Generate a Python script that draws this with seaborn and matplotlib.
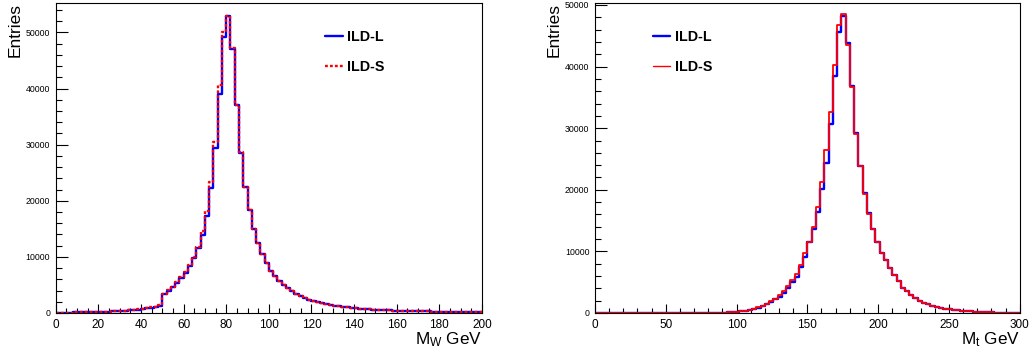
import numpy as np
import pandas as pd
import matplotlib
matplotlib.use("Agg")
import matplotlib.pyplot as plt
import seaborn as sns
from matplotlib.lines import Line2D
from matplotlib.ticker import MultipleLocator, FuncFormatter

# M_W histogram: 100 bins of 2 GeV from 0 to 200, entries in thousands
mw_edges = np.arange(0, 202, 2)
mw_ild_l = [0.05, 0.06, 0.07, 0.08, 0.09, 0.10, 0.11, 0.13, 0.15, 0.17,
            0.19, 0.22, 0.25, 0.28, 0.32, 0.36, 0.41, 0.47, 0.54, 0.62,
            0.72, 0.83, 0.96, 1.10, 1.30, 3.30, 4.00, 4.60, 5.40, 6.20,
            7.10, 8.30, 9.80, 11.6, 13.9, 17.3, 22.3, 29.4, 39.1, 49.1,
            53.0, 47.1, 37.0, 28.6, 22.5, 18.4, 15.0, 12.5, 10.5, 8.9,
            7.5, 6.6, 5.7, 5.0, 4.5, 3.9, 3.4, 3.0, 2.65, 2.35,
            2.1, 1.9, 1.7, 1.55, 1.4, 1.28, 1.17, 1.07, 0.98, 0.90,
            0.83, 0.77, 0.71, 0.66, 0.61, 0.57, 0.53, 0.49, 0.46, 0.43,
            0.40, 0.38, 0.36, 0.34, 0.32, 0.30, 0.28, 0.27, 0.25, 0.24,
            0.23, 0.22, 0.21, 0.20, 0.19, 0.18, 0.17, 0.16, 0.155, 0.15]
mw_ild_s = [0.05, 0.06, 0.07, 0.08, 0.09, 0.10, 0.11, 0.13, 0.15, 0.17,
            0.19, 0.22, 0.25, 0.28, 0.32, 0.36, 0.41, 0.48, 0.55, 0.63,
            0.73, 0.85, 0.98, 1.13, 1.35, 3.40, 4.10, 4.70, 5.50, 6.40,
            7.30, 8.50, 9.90, 11.8, 14.7, 18.1, 23.3, 30.4, 40.7, 50.1,
            52.9, 47.3, 37.1, 28.7, 22.4, 18.3, 15.0, 12.5, 10.5, 8.9,
            7.5, 6.6, 5.7, 5.0, 4.5, 3.9, 3.4, 3.0, 2.65, 2.35,
            2.1, 1.9, 1.7, 1.55, 1.4, 1.28, 1.17, 1.07, 0.98, 0.90,
            0.83, 0.77, 0.71, 0.66, 0.61, 0.57, 0.53, 0.49, 0.46, 0.43,
            0.40, 0.38, 0.36, 0.34, 0.32, 0.30, 0.28, 0.27, 0.25, 0.24,
            0.23, 0.22, 0.21, 0.20, 0.19, 0.18, 0.17, 0.16, 0.155, 0.15]

# M_t histogram: 100 bins of 3 GeV from 0 to 300, entries in thousands
mt_edges = np.arange(0, 303, 3)
mt_ild_l = [0.0, 0.0, 0.0, 0.0, 0.0, 0.0, 0.0, 0.0, 0.0, 0.0,
            0.0, 0.0, 0.0, 0.0, 0.0, 0.0, 0.0, 0.0, 0.0, 0.0,
            0.003, 0.004, 0.006, 0.008, 0.011, 0.015, 0.02, 0.027, 0.036, 0.05,
            0.065, 0.085, 0.12, 0.18, 0.25, 0.35, 0.5, 0.65, 0.85, 1.1,
            1.45, 1.8, 2.2, 2.65, 3.3, 4.1, 5.1, 5.9, 7.4, 9.1,
            11.6, 13.6, 16.4, 20.2, 24.3, 30.7, 38.4, 45.6, 48.2, 43.9,
            36.9, 29.3, 23.9, 19.4, 16.2, 13.6, 11.6, 9.7, 8.6, 7.3,
            6.2, 5.2, 4.0, 3.5, 2.9, 2.4, 2.0, 1.7, 1.45, 1.2,
            1.0, 0.85, 0.7, 0.6, 0.5, 0.42, 0.35, 0.3, 0.25, 0.2,
            0.17, 0.14, 0.12, 0.1, 0.08, 0.07, 0.06, 0.05, 0.04, 0.03]
mt_ild_s = [0.0, 0.0, 0.0, 0.0, 0.0, 0.0, 0.0, 0.0, 0.0, 0.0,
            0.0, 0.0, 0.0, 0.0, 0.0, 0.0, 0.0, 0.0, 0.0, 0.0,
            0.003, 0.004, 0.006, 0.008, 0.011, 0.015, 0.02, 0.028, 0.038, 0.052,
            0.068, 0.09, 0.13, 0.19, 0.26, 0.37, 0.52, 0.68, 0.9, 1.15,
            1.5, 1.9, 2.3, 2.9, 3.5, 4.4, 5.4, 6.3, 7.8, 9.8,
            11.6, 14.0, 17.2, 21.2, 26.5, 32.7, 40.3, 46.8, 48.6, 43.5,
            36.7, 29.1, 23.8, 19.3, 16.1, 13.6, 11.6, 9.7, 8.6, 7.3,
            6.2, 5.2, 4.1, 3.5, 2.9, 2.4, 2.0, 1.7, 1.45, 1.2,
            1.0, 0.85, 0.7, 0.6, 0.5, 0.42, 0.35, 0.3, 0.25, 0.2,
            0.17, 0.14, 0.12, 0.1, 0.08, 0.07, 0.06, 0.05, 0.04, 0.03]

labels = ['ILD-L', 'ILD-S']

sns.set_style("ticks")
plt.rcParams['font.family'] = ['Liberation Sans', 'DejaVu Sans']
plt.rcParams['mathtext.default'] = 'regular'
plt.rcParams['text.color'] = 'black'
plt.rcParams['axes.labelcolor'] = 'black'
plt.rcParams['xtick.color'] = 'black'
plt.rcParams['ytick.color'] = 'black'

fig = plt.figure(figsize=(10.31, 3.56), dpi=100)
ax1 = fig.add_axes([0.054, 0.1208, 0.4135, 0.8716])
ax2 = fig.add_axes([0.5771, 0.1208, 0.4119, 0.8716])

dotted = (0, (1.2, 0.9))

def draw_hist(ax, edges, values, color, lw, ls='-'):
    df = pd.DataFrame({'mass': (edges[:-1] + edges[1:]) / 2,
                       'entries': np.array(values) * 1000})
    sns.histplot(data=df, x='mass', weights='entries', bins=list(edges),
                 element='step', fill=False, color=color, linewidth=lw,
                 linestyle=ls, ax=ax)

draw_hist(ax1, mw_edges, mw_ild_l, 'blue', 1.7)
draw_hist(ax1, mw_edges, mw_ild_s, 'red', 1.7, dotted)
draw_hist(ax2, mt_edges, mt_ild_l, 'blue', 1.7)
draw_hist(ax2, mt_edges, mt_ild_s, 'red', 1.3)

ax1.set_xlim(0, 200); ax1.set_ylim(0, 55300)
ax2.set_xlim(0, 300); ax2.set_ylim(0, 50370)
ax1.xaxis.set_major_locator(MultipleLocator(20)); ax1.xaxis.set_minor_locator(MultipleLocator(5))
ax2.xaxis.set_major_locator(MultipleLocator(50)); ax2.xaxis.set_minor_locator(MultipleLocator(10))

for ax in (ax1, ax2):
    ax.yaxis.set_major_locator(MultipleLocator(10000))
    ax.yaxis.set_minor_locator(MultipleLocator(2000))
    ax.yaxis.set_major_formatter(FuncFormatter(lambda v, p: f"{int(round(v))}"))
    for sp in ax.spines.values():
        sp.set_visible(True); sp.set_color('black'); sp.set_linewidth(0.8)
    ax.tick_params(axis='y', which='major', direction='in', length=8.6, width=0.8,
                   labelsize=6.3, pad=4, left=True, right=False)
    ax.tick_params(axis='y', which='minor', direction='in', length=4.5, width=0.8,
                   left=True, right=False)
    ax.tick_params(axis='x', which='major', direction='in', length=6.7, width=0.8,
                   labelsize=8.5, pad=4, bottom=True, top=False)
    ax.tick_params(axis='x', which='minor', direction='in', length=3.4, width=0.8,
                   bottom=True, top=False)
    ax.set_ylabel('Entries', fontsize=12.5, loc='top')
    ax.yaxis.set_label_coords(-0.078, 1.0)

ax1.set_xlabel(r'M$_{W}$ GeV', fontsize=12.3, loc='right')
ax2.set_xlabel(r'M$_{t}$ GeV', fontsize=12.3, loc='right')
ax1.xaxis.set_label_coords(1.0, -0.055)
ax2.xaxis.set_label_coords(1.0, -0.055)

leg_props = {'weight': 'bold', 'size': 10.3}
h1 = [Line2D([], [], color='blue', lw=1.7), Line2D([], [], color='red', lw=1.7, ls=dotted)]
h2 = [Line2D([], [], color='blue', lw=1.7), Line2D([], [], color='red', lw=1.0)]
ax1.legend(h1, labels, loc='upper left', bbox_to_anchor=(0.632, 0.912), frameon=False,
           borderpad=0, borderaxespad=0, handlelength=1.24, handletextpad=0.31,
           labelspacing=1.1, prop=leg_props)
ax2.legend(h2, labels, loc='upper left', bbox_to_anchor=(0.136, 0.912), frameon=False,
           borderpad=0, borderaxespad=0, handlelength=1.24, handletextpad=0.31,
           labelspacing=1.1, prop=leg_props)

fig.savefig('out.png', dpi=100)
